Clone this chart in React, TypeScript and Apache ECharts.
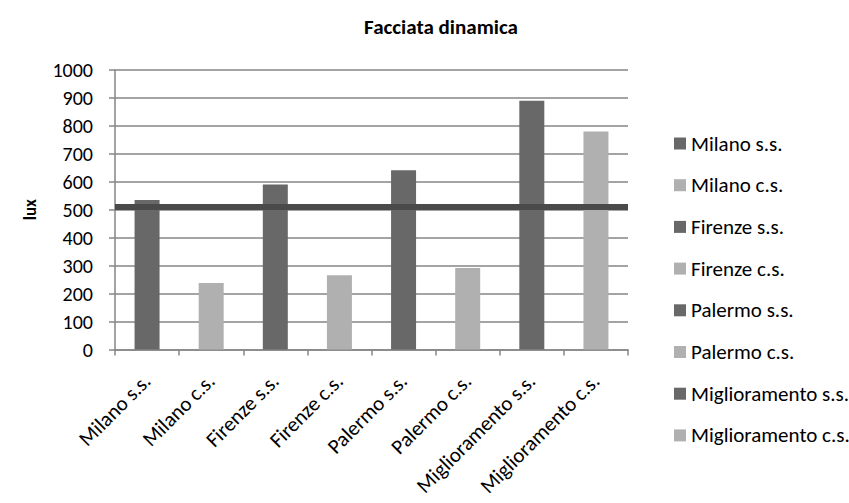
import React, { useEffect, useRef } from "react";
import * as echarts from "echarts";

const categories = [
  "Milano s.s.",
  "Milano c.s.",
  "Firenze s.s.",
  "Firenze c.s.",
  "Palermo s.s.",
  "Palermo c.s.",
  "Miglioramento s.s.",
  "Miglioramento c.s.",
];
const values = [535, 238, 590, 266, 641, 292, 890, 780];
const seriesColors = ["#686868", "#b0b0b0"];
const referenceValue = 510;
const yTicks = { min: 0, max: 1000, interval: 100 };

const FONT = "Carlito, Lato, 'Liberation Sans', sans-serif";

export default function App() {
  const ref = useRef<HTMLDivElement>(null);
  useEffect(() => {
    if (!ref.current) return;
    const chart = echarts.init(ref.current, null, { renderer: "svg" });
    const series: any[] = categories.map((name, i) => ({
      name,
      type: "bar",
      stack: "all",
      barWidth: 25,
      itemStyle: { color: seriesColors[i % 2] },
      data: categories.map((_, j) => (j === i ? values[i] : null)),
      ...(i === 0
        ? {
            markLine: {
              silent: true,
              symbol: "none",
              label: { show: false },
              lineStyle: { color: "#4a4a4a", width: 6, type: "solid" },
              data: [{ yAxis: referenceValue }],
            },
          }
        : {}),
    }));
    chart.setOption({
      animation: false,
      textStyle: { fontFamily: FONT },
      title: {
        text: "Facciata dinamica",
        left: 436,
        textAlign: "center",
        top: 11,
        textStyle: { fontFamily: FONT, fontSize: 21, fontWeight: "bold", color: "#000" },
      },
      grid: { left: 115, right: 221, top: 70, bottom: 153.5, containLabel: false },
      legend: {
        orient: "vertical",
        left: 669,
        top: 128,
        icon: "rect",
        itemWidth: 12,
        itemHeight: 12,
        itemGap: 20.7,
        textStyle: { fontFamily: FONT, fontSize: 21, color: "#000" },
        data: categories,
      },
      xAxis: {
        type: "category",
        data: categories,
        axisLine: { lineStyle: { color: "#868686", width: 1.5 } },
        axisTick: { show: true, interval: 0, length: 6, lineStyle: { color: "#868686", width: 1.5 } },
        axisLabel: {
          interval: 0,
          rotate: 45,
          margin: 28,
          padding: [16, 0, 0, 0],
          fontFamily: FONT,
          fontSize: 21,
          color: "#000",
        },
      },
      yAxis: {
        type: "value",
        min: yTicks.min,
        max: yTicks.max,
        interval: yTicks.interval,
        name: "lux",
        nameLocation: "middle",
        nameGap: 76,
        nameRotate: 90,
        nameTextStyle: { fontFamily: FONT, fontSize: 17, fontWeight: "bold", color: "#000" },
        axisLine: { show: true, lineStyle: { color: "#868686", width: 1.5 } },
        axisTick: { show: true, length: 6, lineStyle: { color: "#868686", width: 1.5 } },
        axisLabel: {
          fontFamily: FONT,
          fontSize: 20,
          color: "#000",
          margin: 22,
          formatter: (v: number) => String(v),
        },
        splitLine: { lineStyle: { color: "#868686", width: 1.5 } },
      },
      series,
    });
    return () => chart.dispose();
  }, []);
  return <div ref={ref} style={{ width: 849, height: 503, position: "absolute", left: 0, top: 0 }} />;
}
